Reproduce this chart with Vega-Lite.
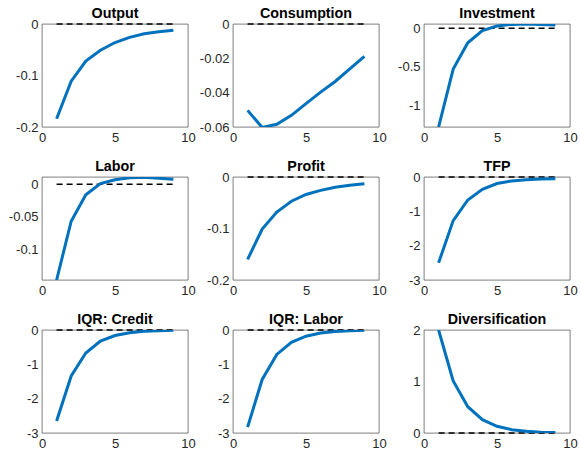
{
  "$schema": "https://vega.github.io/schema/vega-lite/v6.json",
  "background": "white",
  "padding": {"left": 8, "top": 6, "right": 2, "bottom": 2},
  "columns": 3,
  "spacing": {"row": 50, "column": 45},
  "bounds": "flush",
  "datasets": {
    "irf": [
      {"panel": "Output", "t": 1, "v": -0.184}, {"panel": "Output", "t": 2, "v": -0.111}, {"panel": "Output", "t": 3, "v": -0.072},
      {"panel": "Output", "t": 4, "v": -0.051}, {"panel": "Output", "t": 5, "v": -0.036}, {"panel": "Output", "t": 6, "v": -0.026},
      {"panel": "Output", "t": 7, "v": -0.019}, {"panel": "Output", "t": 8, "v": -0.015}, {"panel": "Output", "t": 9, "v": -0.012},
      {"panel": "Consumption", "t": 1, "v": -0.0503}, {"panel": "Consumption", "t": 2, "v": -0.0603}, {"panel": "Consumption", "t": 3, "v": -0.0584},
      {"panel": "Consumption", "t": 4, "v": -0.0532}, {"panel": "Consumption", "t": 5, "v": -0.0464}, {"panel": "Consumption", "t": 6, "v": -0.0397},
      {"panel": "Consumption", "t": 7, "v": -0.0335}, {"panel": "Consumption", "t": 8, "v": -0.0262}, {"panel": "Consumption", "t": 9, "v": -0.0188},
      {"panel": "Investment", "t": 1, "v": -1.285}, {"panel": "Investment", "t": 2, "v": -0.53}, {"panel": "Investment", "t": 3, "v": -0.187},
      {"panel": "Investment", "t": 4, "v": -0.03}, {"panel": "Investment", "t": 5, "v": 0.03}, {"panel": "Investment", "t": 6, "v": 0.052},
      {"panel": "Investment", "t": 7, "v": 0.057}, {"panel": "Investment", "t": 8, "v": 0.052}, {"panel": "Investment", "t": 9, "v": 0.043},
      {"panel": "Labor", "t": 1, "v": -0.1465}, {"panel": "Labor", "t": 2, "v": -0.0566}, {"panel": "Labor", "t": 3, "v": -0.0162},
      {"panel": "Labor", "t": 4, "v": 0.001}, {"panel": "Labor", "t": 5, "v": 0.007}, {"panel": "Labor", "t": 6, "v": 0.0098},
      {"panel": "Labor", "t": 7, "v": 0.0108}, {"panel": "Labor", "t": 8, "v": 0.009}, {"panel": "Labor", "t": 9, "v": 0.0075},
      {"panel": "Profit", "t": 1, "v": -0.16}, {"panel": "Profit", "t": 2, "v": -0.101}, {"panel": "Profit", "t": 3, "v": -0.068},
      {"panel": "Profit", "t": 4, "v": -0.047}, {"panel": "Profit", "t": 5, "v": -0.034}, {"panel": "Profit", "t": 6, "v": -0.026},
      {"panel": "Profit", "t": 7, "v": -0.02}, {"panel": "Profit", "t": 8, "v": -0.016}, {"panel": "Profit", "t": 9, "v": -0.013},
      {"panel": "TFP", "t": 1, "v": -2.5}, {"panel": "TFP", "t": 2, "v": -1.27}, {"panel": "TFP", "t": 3, "v": -0.67},
      {"panel": "TFP", "t": 4, "v": -0.36}, {"panel": "TFP", "t": 5, "v": -0.19}, {"panel": "TFP", "t": 6, "v": -0.115},
      {"panel": "TFP", "t": 7, "v": -0.077}, {"panel": "TFP", "t": 8, "v": -0.058}, {"panel": "TFP", "t": 9, "v": -0.048},
      {"panel": "IQR: Credit", "t": 1, "v": -2.65}, {"panel": "IQR: Credit", "t": 2, "v": -1.34}, {"panel": "IQR: Credit", "t": 3, "v": -0.67},
      {"panel": "IQR: Credit", "t": 4, "v": -0.32}, {"panel": "IQR: Credit", "t": 5, "v": -0.16}, {"panel": "IQR: Credit", "t": 6, "v": -0.078},
      {"panel": "IQR: Credit", "t": 7, "v": -0.04}, {"panel": "IQR: Credit", "t": 8, "v": -0.02}, {"panel": "IQR: Credit", "t": 9, "v": -0.01},
      {"panel": "IQR: Labor", "t": 1, "v": -2.83}, {"panel": "IQR: Labor", "t": 2, "v": -1.44}, {"panel": "IQR: Labor", "t": 3, "v": -0.71},
      {"panel": "IQR: Labor", "t": 4, "v": -0.36}, {"panel": "IQR: Labor", "t": 5, "v": -0.18}, {"panel": "IQR: Labor", "t": 6, "v": -0.088},
      {"panel": "IQR: Labor", "t": 7, "v": -0.045}, {"panel": "IQR: Labor", "t": 8, "v": -0.022}, {"panel": "IQR: Labor", "t": 9, "v": -0.01},
      {"panel": "Diversification", "t": 1, "v": 2.0}, {"panel": "Diversification", "t": 2, "v": 1.01}, {"panel": "Diversification", "t": 3, "v": 0.51},
      {"panel": "Diversification", "t": 4, "v": 0.26}, {"panel": "Diversification", "t": 5, "v": 0.13}, {"panel": "Diversification", "t": 6, "v": 0.065},
      {"panel": "Diversification", "t": 7, "v": 0.032}, {"panel": "Diversification", "t": 8, "v": 0.016}, {"panel": "Diversification", "t": 9, "v": 0.008}
    ]
  },
  "data": {"name": "irf"},
  "concat": [
    {
      "title": {"text": "Output"}, "width": 146, "height": 103,
      "transform": [{"filter": "datum.panel === 'Output'"}],
      "layer": [
        {"mark": {"type": "rule", "color": "black", "strokeWidth": 1.5, "strokeDash": [6, 4]},
         "encoding": {"x": {"aggregate": "min", "field": "t", "type": "quantitative", "title": null}, "x2": {"aggregate": "max", "field": "t"}, "y": {"datum": 0, "type": "quantitative"}}},
        {"mark": {"type": "line", "color": "#0072BD", "strokeWidth": 3, "clip": true},
         "encoding": {
           "x": {"field": "t", "type": "quantitative", "scale": {"domain": [0, 10], "nice": false}, "axis": {"title": null, "values": [0, 5, 10], "tickCount": 10}},
           "y": {"field": "v", "type": "quantitative", "scale": {"domain": [-0.2, 0], "nice": false, "zero": false}, "axis": {"title": null, "values": [-0.2, -0.1, 0], "tickCount": 10}}}}
      ]
    },
    {
      "title": {"text": "Consumption"}, "width": 146, "height": 103,
      "transform": [{"filter": "datum.panel === 'Consumption'"}],
      "layer": [
        {"mark": {"type": "rule", "color": "black", "strokeWidth": 1.5, "strokeDash": [6, 4]},
         "encoding": {"x": {"aggregate": "min", "field": "t", "type": "quantitative", "title": null}, "x2": {"aggregate": "max", "field": "t"}, "y": {"datum": 0, "type": "quantitative"}}},
        {"mark": {"type": "line", "color": "#0072BD", "strokeWidth": 3, "clip": true},
         "encoding": {
           "x": {"field": "t", "type": "quantitative", "scale": {"domain": [0, 10], "nice": false}, "axis": {"title": null, "values": [0, 5, 10], "tickCount": 10}},
           "y": {"field": "v", "type": "quantitative", "scale": {"domain": [-0.06, 0], "nice": false, "zero": false}, "axis": {"title": null, "values": [-0.06, -0.04, -0.02, 0], "tickCount": 10}}}}
      ]
    },
    {
      "title": {"text": "Investment", "offset": 1}, "width": 146, "height": 103,
      "transform": [{"filter": "datum.panel === 'Investment'"}],
      "layer": [
        {"mark": {"type": "rule", "color": "black", "strokeWidth": 1.5, "strokeDash": [6, 4]},
         "encoding": {"x": {"aggregate": "min", "field": "t", "type": "quantitative", "title": null}, "x2": {"aggregate": "max", "field": "t"}, "y": {"datum": 0, "type": "quantitative"}}},
        {"mark": {"type": "line", "color": "#0072BD", "strokeWidth": 3, "clip": true},
         "encoding": {
           "x": {"field": "t", "type": "quantitative", "scale": {"domain": [0, 10], "nice": false}, "axis": {"title": null, "values": [0, 5, 10], "tickCount": 10}},
           "y": {"field": "v", "type": "quantitative", "scale": {"domain": [-1.285, 0.057], "nice": false, "zero": false}, "axis": {"title": null, "values": [-1, -0.5, 0], "tickCount": 10}}}}
      ]
    },
    {
      "title": {"text": "Labor", "offset": 3}, "width": 146, "height": 103,
      "transform": [{"filter": "datum.panel === 'Labor'"}],
      "layer": [
        {"mark": {"type": "rule", "color": "black", "strokeWidth": 1.5, "strokeDash": [6, 4]},
         "encoding": {"x": {"aggregate": "min", "field": "t", "type": "quantitative", "title": null}, "x2": {"aggregate": "max", "field": "t"}, "y": {"datum": 0, "type": "quantitative"}}},
        {"mark": {"type": "line", "color": "#0072BD", "strokeWidth": 3, "clip": true},
         "encoding": {
           "x": {"field": "t", "type": "quantitative", "scale": {"domain": [0, 10], "nice": false}, "axis": {"title": null, "values": [0, 5, 10], "tickCount": 10}},
           "y": {"field": "v", "type": "quantitative", "scale": {"domain": [-0.1465, 0.0111], "nice": false, "zero": false}, "axis": {"title": null, "values": [-0.1, -0.05, 0], "tickCount": 10}}}}
      ]
    },
    {
      "title": {"text": "Profit"}, "width": 146, "height": 103,
      "transform": [{"filter": "datum.panel === 'Profit'"}],
      "layer": [
        {"mark": {"type": "rule", "color": "black", "strokeWidth": 1.5, "strokeDash": [6, 4]},
         "encoding": {"x": {"aggregate": "min", "field": "t", "type": "quantitative", "title": null}, "x2": {"aggregate": "max", "field": "t"}, "y": {"datum": 0, "type": "quantitative"}}},
        {"mark": {"type": "line", "color": "#0072BD", "strokeWidth": 3, "clip": true},
         "encoding": {
           "x": {"field": "t", "type": "quantitative", "scale": {"domain": [0, 10], "nice": false}, "axis": {"title": null, "values": [0, 5, 10], "tickCount": 10}},
           "y": {"field": "v", "type": "quantitative", "scale": {"domain": [-0.2, 0], "nice": false, "zero": false}, "axis": {"title": null, "values": [-0.2, -0.1, 0], "tickCount": 10}}}}
      ]
    },
    {
      "title": {"text": "TFP"}, "width": 146, "height": 103,
      "transform": [{"filter": "datum.panel === 'TFP'"}],
      "layer": [
        {"mark": {"type": "rule", "color": "black", "strokeWidth": 1.5, "strokeDash": [6, 4]},
         "encoding": {"x": {"aggregate": "min", "field": "t", "type": "quantitative", "title": null}, "x2": {"aggregate": "max", "field": "t"}, "y": {"datum": 0, "type": "quantitative"}}},
        {"mark": {"type": "line", "color": "#0072BD", "strokeWidth": 3, "clip": true},
         "encoding": {
           "x": {"field": "t", "type": "quantitative", "scale": {"domain": [0, 10], "nice": false}, "axis": {"title": null, "values": [0, 5, 10], "tickCount": 10}},
           "y": {"field": "v", "type": "quantitative", "scale": {"domain": [-3, 0], "nice": false, "zero": false}, "axis": {"title": null, "values": [-3, -2, -1, 0], "tickCount": 10}}}}
      ]
    },
    {
      "title": {"text": "IQR: Credit"}, "width": 146, "height": 103,
      "transform": [{"filter": "datum.panel === 'IQR: Credit'"}],
      "layer": [
        {"mark": {"type": "rule", "color": "black", "strokeWidth": 1.5, "strokeDash": [6, 4]},
         "encoding": {"x": {"aggregate": "min", "field": "t", "type": "quantitative", "title": null}, "x2": {"aggregate": "max", "field": "t"}, "y": {"datum": 0, "type": "quantitative"}}},
        {"mark": {"type": "line", "color": "#0072BD", "strokeWidth": 3, "clip": true},
         "encoding": {
           "x": {"field": "t", "type": "quantitative", "scale": {"domain": [0, 10], "nice": false}, "axis": {"title": null, "values": [0, 5, 10], "tickCount": 10}},
           "y": {"field": "v", "type": "quantitative", "scale": {"domain": [-3, 0], "nice": false, "zero": false}, "axis": {"title": null, "values": [-3, -2, -1, 0], "tickCount": 10}}}}
      ]
    },
    {
      "title": {"text": "IQR: Labor"}, "width": 146, "height": 103,
      "transform": [{"filter": "datum.panel === 'IQR: Labor'"}],
      "layer": [
        {"mark": {"type": "rule", "color": "black", "strokeWidth": 1.5, "strokeDash": [6, 4]},
         "encoding": {"x": {"aggregate": "min", "field": "t", "type": "quantitative", "title": null}, "x2": {"aggregate": "max", "field": "t"}, "y": {"datum": 0, "type": "quantitative"}}},
        {"mark": {"type": "line", "color": "#0072BD", "strokeWidth": 3, "clip": true},
         "encoding": {
           "x": {"field": "t", "type": "quantitative", "scale": {"domain": [0, 10], "nice": false}, "axis": {"title": null, "values": [0, 5, 10], "tickCount": 10}},
           "y": {"field": "v", "type": "quantitative", "scale": {"domain": [-3, 0], "nice": false, "zero": false}, "axis": {"title": null, "values": [-3, -2, -1, 0], "tickCount": 10}}}}
      ]
    },
    {
      "title": {"text": "Diversification"}, "width": 146, "height": 103,
      "transform": [{"filter": "datum.panel === 'Diversification'"}],
      "layer": [
        {"mark": {"type": "rule", "color": "black", "strokeWidth": 1.5, "strokeDash": [6, 4]},
         "encoding": {"x": {"aggregate": "min", "field": "t", "type": "quantitative", "title": null}, "x2": {"aggregate": "max", "field": "t"}, "y": {"datum": 0, "type": "quantitative"}}},
        {"mark": {"type": "line", "color": "#0072BD", "strokeWidth": 3, "clip": true},
         "encoding": {
           "x": {"field": "t", "type": "quantitative", "scale": {"domain": [0, 10], "nice": false}, "axis": {"title": null, "values": [0, 5, 10], "tickCount": 10}},
           "y": {"field": "v", "type": "quantitative", "scale": {"domain": [0, 2], "nice": false, "zero": false}, "axis": {"title": null, "values": [0, 1, 2], "tickCount": 10}}}}
      ]
    }
  ],
  "config": {
    "view": {"stroke": "#262626", "strokeWidth": 0.6},
    "axis": {
      "domain": false, "grid": false, "ticks": false,
      "labelFont": "Liberation Sans", "labelFontSize": 13, "labelColor": "#262626",
      "labelPadding": 4, "labelFlush": false, "labelOverlap": false, "labelBound": false,
      "labelExpr": "datum.value + ''"
    },
    "title": {"font": "Liberation Sans", "fontSize": 14.3, "fontWeight": "bold", "color": "black", "anchor": "middle", "baseline": "alphabetic", "offset": -3}
  }
}
